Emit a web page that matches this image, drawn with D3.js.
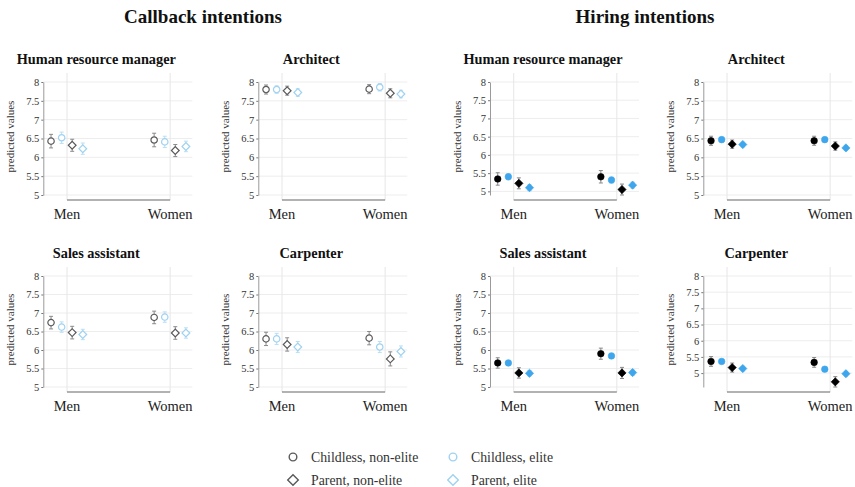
<!DOCTYPE html>
<html>
<head>
<meta charset="utf-8">
<script src="https://cdn.jsdelivr.net/npm/d3@7"></script>
<style>
  html, body { margin: 0; padding: 0; background: #fff; }
  svg, svg text { font-family: "Liberation Serif", "DejaVu Serif", serif !important; }
</style>
</head>
<body>
<svg id="chart" width="855" height="487"></svg>
<script>
// Categories and series
const groups = ["Men", "Women"];
const series = ["Childless, non-elite", "Childless, elite", "Parent, non-elite", "Parent, elite"];
const outcomes = ["Callback intentions", "Hiring intentions"];
const occupations = ["Human resource manager", "Architect", "Sales assistant", "Carpenter"];
const yTicks = [5, 5.5, 6, 6.5, 7, 7.5, 8];

// Predicted values: Men (4 series) then Women (4 series)
const callbackHrManager = [6.43, 6.52, 6.32, 6.23, 6.46, 6.41, 6.18, 6.29];
const callbackArchitect = [7.80, 7.80, 7.77, 7.72, 7.81, 7.86, 7.70, 7.68];
const callbackSales     = [6.74, 6.62, 6.47, 6.42, 6.88, 6.89, 6.46, 6.46];
const callbackCarpenter = [6.30, 6.30, 6.15, 6.08, 6.32, 6.08, 5.76, 5.96];
const hiringHrManager   = [5.34, 5.40, 5.22, 5.10, 5.40, 5.31, 5.05, 5.17];
const hiringArchitect   = [6.44, 6.47, 6.35, 6.34, 6.44, 6.47, 6.30, 6.25];
const hiringSales       = [5.65, 5.65, 5.38, 5.37, 5.90, 5.84, 5.38, 5.39];
const hiringCarpenter   = [5.36, 5.36, 5.17, 5.14, 5.33, 5.12, 4.73, 4.98];

// Half-widths of the confidence intervals, same order
const callbackHrManagerCI = [0.18, 0.15, 0.16, 0.15, 0.18, 0.15, 0.16, 0.14];
const callbackArchitectCI = [0.12, 0.10, 0.12, 0.10, 0.12, 0.10, 0.12, 0.10];
const callbackSalesCI     = [0.17, 0.14, 0.17, 0.14, 0.17, 0.14, 0.17, 0.14];
const callbackCarpenterCI = [0.18, 0.15, 0.18, 0.15, 0.18, 0.15, 0.19, 0.15];
const hiringHrManagerCI   = [0.17, 0.08, 0.15, 0.08, 0.17, 0.08, 0.15, 0.08];
const hiringArchitectCI   = [0.12, 0.06, 0.11, 0.06, 0.12, 0.06, 0.11, 0.06];
const hiringSalesCI       = [0.14, 0.07, 0.14, 0.07, 0.15, 0.07, 0.15, 0.07];
const hiringCarpenterCI   = [0.15, 0.07, 0.14, 0.07, 0.15, 0.07, 0.16, 0.07];

const panels = [
  { outcome: 0, occ: 0, vals: callbackHrManager, ci: callbackHrManagerCI },
  { outcome: 0, occ: 1, vals: callbackArchitect, ci: callbackArchitectCI },
  { outcome: 0, occ: 2, vals: callbackSales,     ci: callbackSalesCI },
  { outcome: 0, occ: 3, vals: callbackCarpenter, ci: callbackCarpenterCI },
  { outcome: 1, occ: 0, vals: hiringHrManager,   ci: hiringHrManagerCI },
  { outcome: 1, occ: 1, vals: hiringArchitect,   ci: hiringArchitectCI },
  { outcome: 1, occ: 2, vals: hiringSales,       ci: hiringSalesCI },
  { outcome: 1, occ: 3, vals: hiringCarpenter,   ci: hiringCarpenterCI }
];

// Layout
const colLeft = [43.3, 258.3, 490, 703.3];
const rowTop = [73, 267];
const rowBottom = [200, 392];
const plotW = 149;
const offsets = [-0.155, -0.052, 0.05, 0.153];
const grey = "#5a5a5a";
const lightBlue = "#9fd2f1";
const blue = "#3ea6ec";
const serif = "Liberation Serif, serif";

const svg = d3.select("#chart");
svg.append("rect").attr("width", 855).attr("height", 487).attr("fill", "#fff");

// Outcome headings
const headingX = [203, 645];
outcomes.forEach((t, i) => {
  svg.append("text").attr("x", headingX[i]).attr("y", 23)
    .attr("text-anchor", "middle").attr("font-weight", "bold")
    .attr("font-family", serif)
    .attr("font-size", 19).attr("fill", "#111").text(t);
});

const circlePath = d3.symbol(d3.symbolCircle, 32)();
const diamondPath = d3.symbol(d3.symbolSquare, 30)();
const circleFilled = d3.symbol(d3.symbolCircle, 34)();
const diamondFilled = d3.symbol(d3.symbolSquare, 34)();

panels.forEach(p => {
  const col = p.outcome * 2 + (p.occ % 2);
  const row = Math.floor(p.occ / 2);
  const L = colLeft[col], T = rowTop[row], B = rowBottom[row];
  const filled = p.outcome === 1;

  const lows = p.vals.map((v, i) => v - p.ci[i]);
  const lo = Math.min(5, d3.min(lows));
  const y = d3.scaleLinear().domain([lo, 8]).range([B - 5, T + 9]);
  const x = d3.scaleLinear().domain([0.77, 2.215]).range([L, L + plotW]);

  const g = svg.append("g").attr("font-family", serif);

  // Panel title
  g.append("text").attr("x", L + 53).attr("y", T - 9.5)
    .attr("text-anchor", "middle").attr("font-weight", "bold")
    .attr("font-size", 14.3).attr("fill", "#111").text(occupations[p.occ]);

  // Horizontal grid
  g.selectAll(".hg").data(yTicks).join("line")
    .attr("x1", L).attr("x2", L + plotW)
    .attr("y1", d => y(d)).attr("y2", d => y(d))
    .attr("stroke", "#ededed").attr("stroke-width", 1);

  // Vertical grid at categories
  g.selectAll(".vg").data([1, 2]).join("line")
    .attr("x1", d => x(d)).attr("x2", d => x(d))
    .attr("y1", T).attr("y2", B)
    .attr("stroke", "#e6e6e6").attr("stroke-width", 1);

  // Y axis
  const yAxis = d3.axisLeft(y).tickValues(yTicks).tickSize(2).tickSizeOuter(0)
    .tickPadding(2).tickFormat(d => String(d));
  const ya = g.append("g").attr("transform", `translate(${L},0)`).call(yAxis)
    .attr("font-family", serif);
  ya.select(".domain").attr("stroke", "#9a9a9a");
  ya.selectAll(".tick line").attr("stroke", "#777");
  ya.selectAll(".tick text").attr("font-family", serif)
    .attr("font-size", 10.5).attr("fill", "#333");

  // Y label
  g.append("text")
    .attr("transform", `translate(${L - 33},${(T + B) / 2}) rotate(-90)`)
    .attr("text-anchor", "middle").attr("dy", "0.35em")
    .attr("font-size", 11).attr("fill", "#333").text("predicted values");

  // X axis line spanning the categories
  g.append("line").attr("x1", x(1)).attr("x2", x(2)).attr("y1", B).attr("y2", B)
    .attr("stroke", "#666").attr("stroke-width", 1.2);
  g.selectAll(".xl").data(groups).join("text")
    .attr("x", (d, i) => x(i + 1)).attr("y", B + 19)
    .attr("text-anchor", "middle").attr("font-size", 14.5).attr("fill", "#222")
    .text(d => d);

  // Points
  const pts = p.vals.map((v, i) => {
    const gi = Math.floor(i / 4), s = i % 4;
    return { v, ci: p.ci[i], s, px: x(gi + 1 + offsets[s]) };
  });
  const colorOf = s => filled ? (s % 2 === 0 ? "#000" : blue) : (s % 2 === 0 ? grey : lightBlue);
  const errColor = s => filled ? (s % 2 === 0 ? "#888" : "#9cc9ea") : (s % 2 === 0 ? "#8a8a8a" : "#b9def4");

  // Error bars
  const eb = g.selectAll(".eb").data(pts).join("g");
  eb.append("line").attr("x1", d => d.px).attr("x2", d => d.px)
    .attr("y1", d => y(d.v - d.ci)).attr("y2", d => y(d.v + d.ci))
    .attr("stroke", d => errColor(d.s)).attr("stroke-width", 1);
  [-1, 1].forEach(k => {
    eb.append("line").attr("x1", d => d.px - 2).attr("x2", d => d.px + 2)
      .attr("y1", d => y(d.v + k * d.ci)).attr("y2", d => y(d.v + k * d.ci))
      .attr("stroke", d => errColor(d.s)).attr("stroke-width", 1);
  });

  // Markers
  g.selectAll(".mk").data(pts).join("path")
    .attr("d", d => filled ? (d.s < 2 ? circleFilled : diamondFilled) : (d.s < 2 ? circlePath : diamondPath))
    .attr("transform", d => `translate(${d.px},${y(d.v)})` + (d.s >= 2 ? " rotate(45)" : ""))
    .attr("fill", d => filled ? colorOf(d.s) : "#fff")
    .attr("stroke", d => colorOf(d.s))
    .attr("stroke-width", filled ? 0.6 : 1.2);
});

// Legend
const legendPos = [[293, 457], [453, 457], [293, 480], [453, 480]];
series.forEach((name, s) => {
  const [lx, ly] = legendPos[s];
  const c = s % 2 === 0 ? grey : lightBlue;
  svg.append("path")
    .attr("d", s < 2 ? d3.symbol(d3.symbolCircle, 46)() : d3.symbol(d3.symbolSquare, 56)())
    .attr("transform", `translate(${lx},${ly})` + (s >= 2 ? " rotate(45)" : ""))
    .attr("fill", "#fff").attr("stroke", c).attr("stroke-width", 1.4);
  svg.append("text").attr("x", lx + 18).attr("y", ly).attr("dy", "0.35em")
    .attr("font-family", serif)
    .attr("font-size", 13.8).attr("fill", "#333").text(name);
});
</script>
</body>
</html>
